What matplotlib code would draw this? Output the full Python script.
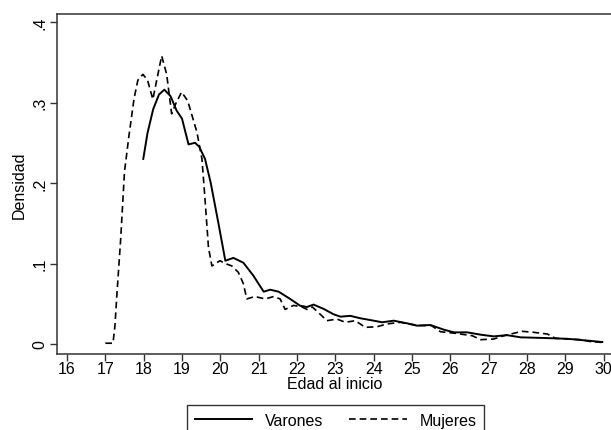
import matplotlib
matplotlib.use("Agg")
import matplotlib.pyplot as plt

plt.rcParams['font.family'] = ['Liberation Sans', 'DejaVu Sans']

# Varones (solid)
var_x = [17.99, 18.1, 18.25, 18.4, 18.54, 18.7, 18.86, 19.0, 19.17, 19.34, 19.45, 19.6, 19.75, 19.95, 20.13,
         20.34, 20.6, 20.86, 21.13, 21.3, 21.52, 21.82, 22.08, 22.26, 22.43, 22.7, 22.95, 23.13, 23.39,
         23.65, 24.0, 24.22, 24.52, 24.87, 25.13, 25.48, 25.83, 26.09, 26.44, 26.79, 27.13, 27.48, 27.83,
         28.44, 29.05, 29.4, 29.96]
var_y = [0.230, 0.262, 0.292, 0.310, 0.316, 0.308, 0.290, 0.280, 0.248, 0.250, 0.245, 0.230, 0.200, 0.150, 0.1035,
         0.107, 0.101, 0.085, 0.065, 0.0675, 0.065, 0.056, 0.0476, 0.046, 0.049, 0.0435, 0.037, 0.034, 0.035,
         0.032, 0.029, 0.027, 0.029, 0.0257, 0.0228, 0.0236, 0.0178, 0.0145, 0.0145, 0.0116, 0.0095, 0.0110, 0.0083,
         0.0075, 0.0065, 0.0050, 0.0025]

# Mujeres (dashed)
muj_x = [17.0, 17.2, 17.25, 17.3, 17.4, 17.5, 17.62, 17.75, 17.85, 17.98, 18.1, 18.24, 18.35, 18.47, 18.6,
         18.73, 18.85, 18.99, 19.15, 19.39, 19.52, 19.6, 19.69, 19.78, 19.99, 20.13, 20.3, 20.47, 20.6, 20.69,
         20.9, 21.17, 21.39, 21.56, 21.69, 21.91, 22.13, 22.26, 22.4, 22.56, 22.78, 23.04, 23.26, 23.52,
         23.78, 24.09, 24.35, 24.7, 24.9, 25.2, 25.5, 25.74, 26.13, 26.57, 26.79, 27.13, 27.39, 27.87, 28.18,
         28.53, 28.74, 29.05, 29.4, 29.66, 29.96]
muj_y = [0.001, 0.001, 0.022, 0.06, 0.13, 0.214, 0.260, 0.305, 0.328, 0.335, 0.328, 0.304, 0.330, 0.358, 0.335,
         0.286, 0.300, 0.313, 0.302, 0.263, 0.230, 0.180, 0.120, 0.097, 0.1035, 0.100, 0.097, 0.089, 0.075, 0.056,
         0.059, 0.056, 0.059, 0.056, 0.043, 0.048, 0.046, 0.043, 0.046, 0.039, 0.029, 0.031, 0.027, 0.029,
         0.0207, 0.0215, 0.025, 0.027, 0.025, 0.023, 0.023, 0.0153, 0.0133, 0.0103, 0.0054, 0.0062, 0.0103, 0.0158, 0.0145,
         0.0124, 0.0071, 0.0062, 0.0054, 0.0030, 0.0020]

x_ticks = list(range(16, 31))
y_ticks = [0, 0.1, 0.2, 0.3, 0.4]
y_tick_labels = ["0", ".1", ".2", ".3", ".4"]

fig = plt.figure(figsize=(6.11, 4.31), dpi=100)
ax = fig.add_axes([57 / 611, 1 - 355 / 431, 1 - 57 / 611 + 0.002, (355 - 15) / 431])

ax.plot(var_x, var_y, color='black', lw=1.4, ls='-', label='Varones')
ax.plot(muj_x, muj_y, color='black', lw=1.2, ls=(0, (4, 2.4)), label='Mujeres')

ax.set_xlim(15.74, 30.22)
ax.set_ylim(-0.0124, 0.41)
ax.set_xticks(x_ticks)
ax.set_xticklabels([str(v) for v in x_ticks])
ax.set_yticks(y_ticks)
ax.set_yticklabels(y_tick_labels, rotation=90, va='center')
ax.tick_params(axis='both', direction='out', length=5, width=1, labelsize=11.5, color='#333333')
ax.tick_params(axis='x', pad=0)
ax.tick_params(axis='y', pad=2)
for s in ['left', 'bottom', 'top']:
    ax.spines[s].set_color('#333333')
    ax.spines[s].set_linewidth(1.1)
ax.spines['right'].set_visible(False)

ax.set_xlabel('Edad al inicio', fontsize=11.5, labelpad=0)
ax.set_ylabel('Densidad', fontsize=11.5, labelpad=4)

leg = fig.legend(loc='upper left', bbox_to_anchor=(187 / 611, 1 - 406 / 431), ncol=2,
                 frameon=True, fancybox=False, edgecolor='black', fontsize=11.5,
                 handlelength=3.6, columnspacing=1.6, handletextpad=0.8, borderpad=0.5,
                 borderaxespad=0)
leg.get_frame().set_linewidth(1.0)

fig.savefig('out.png', dpi=100)
